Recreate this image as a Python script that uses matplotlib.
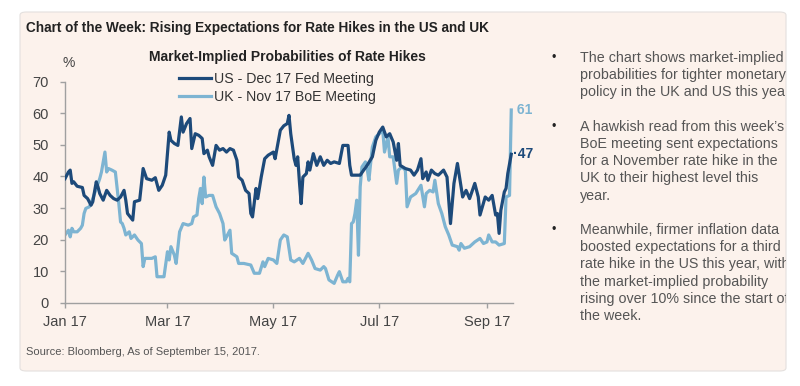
import matplotlib
matplotlib.use("Agg")
import matplotlib.pyplot as plt
from matplotlib.patches import FancyBboxPatch
from matplotlib.transforms import Bbox, TransformedBbox
import pandas as pd

plt.rcParams['font.family'] = ['Liberation Sans', 'DejaVu Sans']

# days since 1 Jan 2017 and market-implied probability (%)
us_day = [0, 2, 3, 4, 5, 7, 10, 11, 13, 15, 16, 18, 19, 20, 22, 24, 26, 28, 30, 32,
          34, 35, 36, 39, 40, 43, 45, 47, 50, 52, 54, 56, 58, 60, 61, 63, 65, 67, 68, 70,
          72, 73, 75, 77, 79, 80, 82, 83, 85, 87, 89, 91, 93, 95, 97, 99, 100, 102, 104, 106,
          107, 108, 110, 111, 113, 115, 117, 120, 121, 124, 126, 128, 129, 130, 132, 133, 134, 135, 136, 137,
          139, 140, 141, 143, 145, 147, 149, 151, 153, 155, 158, 160, 163, 164, 165, 167, 170, 172, 174, 177,
          179, 181, 183, 185, 187, 189, 191, 192, 193, 196, 199, 201, 203, 205, 206, 208, 209, 211, 213, 215,
          218, 220, 222, 224, 226, 229, 231, 233, 236, 238, 239, 242, 244, 246, 248, 249, 250, 251, 253, 254,
          255, 257]
us_val = [39.3, 41.4, 42.0, 37.8, 38.3, 36.9, 36.5, 34.0, 33.0, 30.9, 32.0, 38.3, 36.7, 34.6, 32.5, 35.6, 34.0, 33.0, 32.5, 33.5,
          35.6, 32.5, 28.3, 26.2, 32.0, 32.5, 42.5, 39.3, 38.8, 39.6, 35.6, 37.2, 40.4, 54.0, 51.4, 50.4, 49.8, 58.8, 54.0, 56.7,
          58.3, 48.8, 53.5, 53.0, 52.0, 47.2, 48.3, 46.2, 43.5, 49.8, 48.3, 48.8, 47.7, 48.8, 48.3, 45.1, 39.8, 38.8, 35.6, 34.6,
          28.3, 27.2, 36.2, 33.0, 39.8, 45.6, 46.7, 47.7, 45.6, 54.6, 56.0, 56.7, 59.3, 53.5, 45.6, 43.5, 46.2, 38.3, 31.4, 39.8,
          40.9, 44.6, 42.0, 47.2, 43.5, 46.2, 43.5, 45.1, 44.1, 44.6, 44.1, 49.8, 49.8, 43.5, 40.4, 40.4, 40.4, 42.0, 43.5, 46.2,
          51.4, 54.0, 55.6, 52.5, 53.5, 50.9, 45.1, 50.4, 43.5, 42.5, 42.0, 40.4, 42.0, 45.6, 39.3, 41.4, 38.8, 42.0, 40.9, 40.4,
          42.0, 39.8, 25.1, 37.8, 44.1, 33.5, 35.6, 33.0, 37.8, 33.5, 27.8, 33.5, 32.5, 34.0, 27.8, 28.3, 22.0, 29.3, 35.1, 36.2,
          40.9, 47.0]

uk_day = [0, 2, 3, 4, 5, 7, 9, 10, 11, 12, 14, 16, 18, 20, 21, 23, 24, 25, 27, 29,
          31, 32, 33, 34, 35, 37, 38, 40, 42, 44, 45, 46, 50, 52, 53, 56, 57, 59, 60, 61,
          63, 64, 66, 68, 71, 73, 74, 76, 77, 78, 79, 80, 81, 83, 85, 87, 89, 91, 92, 93,
          95, 96, 99, 100, 103, 107, 109, 112, 114, 115, 117, 120, 122, 124, 126, 128, 130, 132, 135, 137,
          140, 142, 144, 147, 149, 150, 152, 155, 157, 158, 160, 162, 163, 164, 165, 166, 167, 168, 169, 170,
          171, 173, 174, 175, 177, 179, 181, 183, 184, 186, 187, 189, 191, 192, 194, 196, 197, 199, 202, 205,
          207, 208, 210, 212, 213, 215, 217, 219, 221, 223, 226, 227, 228, 230, 233, 236, 239, 241, 243, 244,
          246, 248, 250, 253, 254, 256, 257]
uk_val = [21.5, 23.0, 20.9, 23.6, 22.5, 22.5, 23.6, 24.6, 28.3, 29.9, 30.4, 33.0, 36.2, 39.3, 41.4, 47.7, 41.4, 42.5, 42.0, 41.4,
          31.4, 25.6, 25.1, 23.6, 21.5, 22.5, 20.4, 21.5, 19.9, 18.8, 11.5, 14.1, 14.1, 14.6, 8.3, 8.3, 8.3, 16.2, 13.6, 17.8,
          15.1, 12.5, 22.5, 25.1, 24.6, 25.1, 27.2, 27.8, 33.0, 36.2, 31.4, 39.8, 33.5, 34.0, 34.0, 30.4, 28.3, 25.1, 19.9, 20.9,
          23.0, 15.7, 14.6, 12.5, 12.5, 12.0, 9.4, 9.4, 13.0, 11.5, 14.1, 13.6, 12.5, 19.9, 21.5, 20.9, 13.6, 13.0, 14.1, 12.5,
          15.7, 13.6, 10.9, 10.4, 11.5, 10.9, 7.3, 6.2, 8.8, 9.9, 6.7, 6.7, 7.8, 6.7, 25.1, 25.6, 28.3, 32.5, 15.1, 36.7,
          43.0, 44.6, 42.5, 38.8, 49.3, 52.5, 53.5, 54.6, 47.7, 52.5, 46.2, 46.2, 37.8, 42.0, 43.0, 42.0, 30.4, 33.5, 34.6, 37.2,
          30.4, 34.6, 35.6, 35.1, 38.8, 31.4, 28.3, 24.1, 21.5, 18.3, 17.8, 16.7, 18.8, 17.3, 17.8, 19.3, 20.4, 18.8, 19.3, 21.5,
          19.3, 19.3, 18.3, 18.8, 33.5, 34.0, 61.0]

tick_dates = ['2017-01-01', '2017-03-01', '2017-05-01', '2017-07-01', '2017-09-01']
tick_labels = ['Jan 17', 'Mar 17', 'May 17', 'Jul 17', 'Sep 17']

bullets = [
    ["The chart shows market-implied", "probabilities for tighter monetary",
     "policy in the UK and US this year"],
    ["A hawkish read from this week\u2019s", "BoE meeting sent expectations",
     "for a November rate hike in the", "UK to their highest level this", "year."],
    ["Meanwhile, firmer inflation data", "boosted expectations for a third",
     "rate hike in the US this year, with", "the market-implied probability",
     "rising over 10% since the start of", "the week."],
]

DARK = '#1d4a7a'
LIGHT = '#7db4d2'
BG = '#fcf2ec'

start = pd.Timestamp('2017-01-01')
us_x = start + pd.to_timedelta(us_day, unit='D')
uk_x = start + pd.to_timedelta(uk_day, unit='D')

W, H = 800, 386
fig = plt.figure(figsize=(W / 100, H / 100), dpi=100)
fig.patch.set_facecolor('white')

panel = FancyBboxPatch((20 / W, (H - 371) / H), 766 / W, 359 / H,
                       boxstyle='round,pad=0,rounding_size=0.008',
                       transform=fig.transFigure, facecolor=BG,
                       edgecolor='#e4e0de', linewidth=0.8, zorder=-5)
fig.patches.append(panel)
# right-hand text is cut off at the panel edge
clip = TransformedBbox(Bbox([[20 / W, 0], [786 / W, 1]]), fig.transFigure)

ax = fig.add_axes([65 / W, (H - 303) / H, 448 / W, 221.5 / H])
ax.set_facecolor('none')
ax.patch.set_alpha(0)
ax.plot(uk_x, uk_val, color=LIGHT, lw=2.3, solid_joinstyle='round', label='UK - Nov 17 BoE Meeting', zorder=2)
ax.plot(us_x, us_val, color=DARK, lw=2.3, solid_joinstyle='round', label='US - Dec 17 Fed Meeting', zorder=3)

ax.set_ylim(0, 70)
ax.set_yticks(range(0, 71, 10))
ax.set_xlim(start, pd.Timestamp('2017-09-16'))
ax.set_xticks(pd.to_datetime(tick_dates))
ax.set_xticklabels(tick_labels)
for s in ['top', 'right']:
    ax.spines[s].set_visible(False)
for s in ['left', 'bottom']:
    ax.spines[s].set_color('#a0a0a0')
    ax.spines[s].set_linewidth(1.0)
ax.tick_params(colors='#a0a0a0', labelcolor='#444444', labelsize=10.5, length=3.5, width=1)
ax.tick_params(axis='y', pad=8)
ax.tick_params(axis='x', pad=5)

handles, labels = ax.get_legend_handles_labels()
leg = ax.legend(handles[::-1], labels[::-1], loc='upper left', bbox_to_anchor=(0.254, 1.043),
                frameon=False, fontsize=10.2, handlelength=2.3, handletextpad=0.15,
                labelspacing=0.25, borderaxespad=0, borderpad=0)
for t in leg.get_texts():
    t.set_color('#333333')

ax.text(1.0, 61, ' 61', transform=ax.get_yaxis_transform(), color=LIGHT,
        fontsize=10, fontweight='bold', va='center', ha='left', clip_on=False)
ax.text(1.0, 47, '\u00b747', transform=ax.get_yaxis_transform(), color=DARK,
        fontsize=10, fontweight='bold', va='center', ha='left', clip_on=False)

fig.text(26 / W, 1 - 28 / H, 'Chart of the Week: Rising Expectations for Rate Hikes in the US and UK',
         fontsize=9.8, fontweight='bold', color='#222222', va='center', ha='left')
fig.text(287 / W, 1 - 57 / H, 'Market-Implied Probabilities of Rate Hikes',
         fontsize=10, fontweight='bold', color='#222222', va='center', ha='center')
fig.text(69 / W, 1 - 63 / H, '%', fontsize=10, color='#444444', va='center', ha='center')
fig.text(26 / W, 1 - 352 / H, 'Source: Bloomberg, As of September 15, 2017.',
         fontsize=8, color='#555555', va='center', ha='left')

y = 58
for block in bullets:
    fig.text(554 / W, 1 - y / H, '\u2022', fontsize=9, color='#222222', va='center', ha='center')
    for line in block:
        t = fig.text(580 / W, 1 - y / H, line, fontsize=10.3, color='#555555', va='center', ha='left')
        t.set_clip_on(True)
        t.set_clip_box(clip)
        y += 17.2
    y += 17.2

fig.savefig('out.png', dpi=100, facecolor='white')
